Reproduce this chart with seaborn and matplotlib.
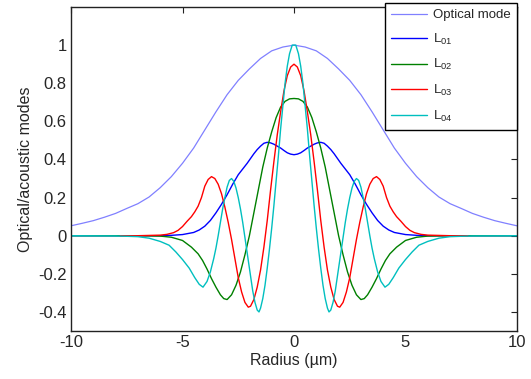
import numpy as np
import pandas as pd
import matplotlib
matplotlib.use("Agg")
import matplotlib.pyplot as plt
import seaborn as sns

# ---- data (half profiles, r >= 0; the modes are symmetric in radius) ----
r_opt = [0, 0.5, 1, 1.5, 2, 2.5, 3, 3.5, 4, 4.5, 5, 5.5, 6, 6.5, 7, 7.5, 8, 8.5, 9, 9.5, 10]
optical = [1.0, 0.99, 0.97, 0.93, 0.875, 0.815, 0.74, 0.65, 0.555, 0.46, 0.38, 0.31, 0.252,
           0.203, 0.168, 0.143, 0.117, 0.097, 0.079, 0.065, 0.052]

r_l01 = [0, 0.15, 0.3, 0.45, 0.6, 0.75, 0.9, 1.05, 1.2, 1.35, 1.5, 1.65, 1.8, 2.1, 2.5, 2.75,
         3.0, 3.25, 3.5, 3.75, 4.0, 4.25, 4.5, 5.0, 5.5, 6.0, 7, 8, 10]
l01 = [0.425, 0.428, 0.435, 0.447, 0.46, 0.47, 0.48, 0.487, 0.49, 0.485, 0.47, 0.452, 0.43,
       0.38, 0.32, 0.27, 0.215, 0.165, 0.12, 0.08, 0.05, 0.03, 0.017, 0.006, 0.002, 0.0,
       0.0, 0.0, 0.0]

r_l02 = [0, 0.2, 0.4, 0.6, 0.8, 1.0, 1.2, 1.4, 1.6, 1.8, 2.0, 2.2, 2.4, 2.6, 2.8, 3.0, 3.15,
         3.3, 3.5, 3.7, 3.9, 4.1, 4.3, 4.6, 5.0, 5.5, 6, 7, 10]
l02 = [0.72, 0.718, 0.705, 0.675, 0.62, 0.545, 0.46, 0.36, 0.24, 0.12, 0.0, -0.1, -0.19,
       -0.26, -0.31, -0.335, -0.33, -0.31, -0.27, -0.225, -0.175, -0.13, -0.095, -0.06,
       -0.025, -0.008, -0.002, 0.0, 0.0]

r_l03 = [0, 0.15, 0.3, 0.45, 0.6, 0.75, 0.9, 1.05, 1.2, 1.35, 1.5, 1.65, 1.8, 1.95, 2.05,
         2.2, 2.35, 2.5, 2.65, 2.8, 2.95, 3.1, 3.25, 3.4, 3.55, 3.7, 3.85, 4.0, 4.15, 4.3,
         4.45, 4.6, 4.8, 5.0, 5.2, 5.4, 5.7, 6.0, 7.0, 7.8]
l03 = [0.90, 0.885, 0.84, 0.76, 0.65, 0.53, 0.39, 0.24, 0.08, -0.06, -0.18, -0.27, -0.335,
       -0.37, -0.375, -0.35, -0.295, -0.22, -0.12, -0.02, 0.07, 0.15, 0.22, 0.27, 0.3, 0.31,
       0.295, 0.26, 0.2, 0.155, 0.125, 0.1, 0.075, 0.048, 0.028, 0.016, 0.007, 0.003, 0.0,
       0.0]

r_l04 = [0, 0.08, 0.2, 0.3, 0.4, 0.5, 0.6, 0.7, 0.8, 0.9, 1.0, 1.1, 1.2, 1.3, 1.4, 1.5, 1.57,
         1.65, 1.75, 1.85, 2.0, 2.1, 2.2, 2.3, 2.4, 2.5, 2.6, 2.7, 2.8, 2.9, 3.0, 3.1, 3.2,
         3.3, 3.4, 3.5, 3.6, 3.75, 3.9, 4.08, 4.25, 4.45, 4.7, 5.0, 5.3, 5.6, 6.0, 6.5, 7.0,
         8.0, 10]
l04 = [1.0, 1.0, 0.955, 0.89, 0.8, 0.68, 0.56, 0.42, 0.29, 0.16, 0.04, -0.07, -0.17, -0.26,
       -0.33, -0.38, -0.40, -0.39, -0.35, -0.29, -0.17, -0.09, -0.01, 0.07, 0.14, 0.2, 0.25,
       0.285, 0.3, 0.29, 0.255, 0.2, 0.14, 0.07, 0.0, -0.065, -0.12, -0.19, -0.24, -0.27,
       -0.255, -0.22, -0.17, -0.125, -0.085, -0.05, -0.03, -0.013, -0.005, -0.001, 0.0]

labels = ["Optical mode", r"L$_{01}$", r"L$_{02}$", r"L$_{03}$", r"L$_{04}$"]
colors = ["#8080ff", "#0000ff", "#008000", "#ff0000", "#00bfbf"]
widths = [0.9, 1.0, 1.0, 1.0, 1.0]

xticks = [-10, -5, 0, 5, 10]
yticks = [-0.4, -0.2, 0, 0.2, 0.4, 0.6, 0.8, 1]
yticklabels = ["-0.4", "-0.2", "0", "0.2", "0.4", "0.6", "0.8", "1"]
xlabel = "Radius (µm)"
ylabel = "Optical/acoustic modes"


def mirror(r, v):
    r = np.asarray(r, float)
    v = np.asarray(v, float)
    return np.concatenate([-r[::-1], r[1:]]), np.concatenate([v[::-1], v[1:]])


series = [(r_opt, optical), (r_l01, l01), (r_l02, l02), (r_l03, l03), (r_l04, l04)]

sns.set_style("white")
plt.rcParams["font.family"] = ["Liberation Sans", "DejaVu Sans"]
plt.rcParams["mathtext.fontset"] = "custom"
plt.rcParams["mathtext.rm"] = "Liberation Sans"
plt.rcParams["mathtext.it"] = "Liberation Sans"

fig = plt.figure(figsize=(5.31, 3.79), dpi=100)
ax = fig.add_axes([71 / 531, 1 - 331 / 379, (517 - 71) / 531, (331 - 7) / 379])

for (r, v), lab, col, lw in zip(series, labels, colors, widths):
    x, y = mirror(r, v)
    df = pd.DataFrame({"r": x, "v": y})
    sns.lineplot(data=df, x="r", y="v", ax=ax, color=col, linewidth=lw, label=lab,
                 estimator=None, sort=True)

ax.set_xlim(-10, 10)
ax.set_ylim(-0.5, 1.2)
ax.set_xticks(xticks)
ax.set_xticklabels([str(t) for t in xticks])
ax.set_yticks(yticks)
ax.set_yticklabels(yticklabels)
ax.set_xlabel(xlabel, fontsize=11.5, labelpad=2)
ax.set_ylabel(ylabel, fontsize=11.5, labelpad=4)
ax.tick_params(direction="in", top=True, right=True, length=4, width=0.8,
               labelsize=12, pad=3, color="#222222")
for s in ax.spines.values():
    s.set_visible(True)
    s.set_color("#222222")
    s.set_linewidth(1.0)

leg = ax.legend(loc="upper right", bbox_to_anchor=(517 / 531, 1 - 3 / 379),
                bbox_transform=fig.transFigure, borderaxespad=0, fontsize=9.5,
                frameon=True, fancybox=False, framealpha=1, edgecolor="black",
                handlelength=2.7, handletextpad=0.5, labelspacing=0.8,
                borderpad=0.45)
leg.get_frame().set_linewidth(1.0)

fig.savefig("out.png", dpi=100)
